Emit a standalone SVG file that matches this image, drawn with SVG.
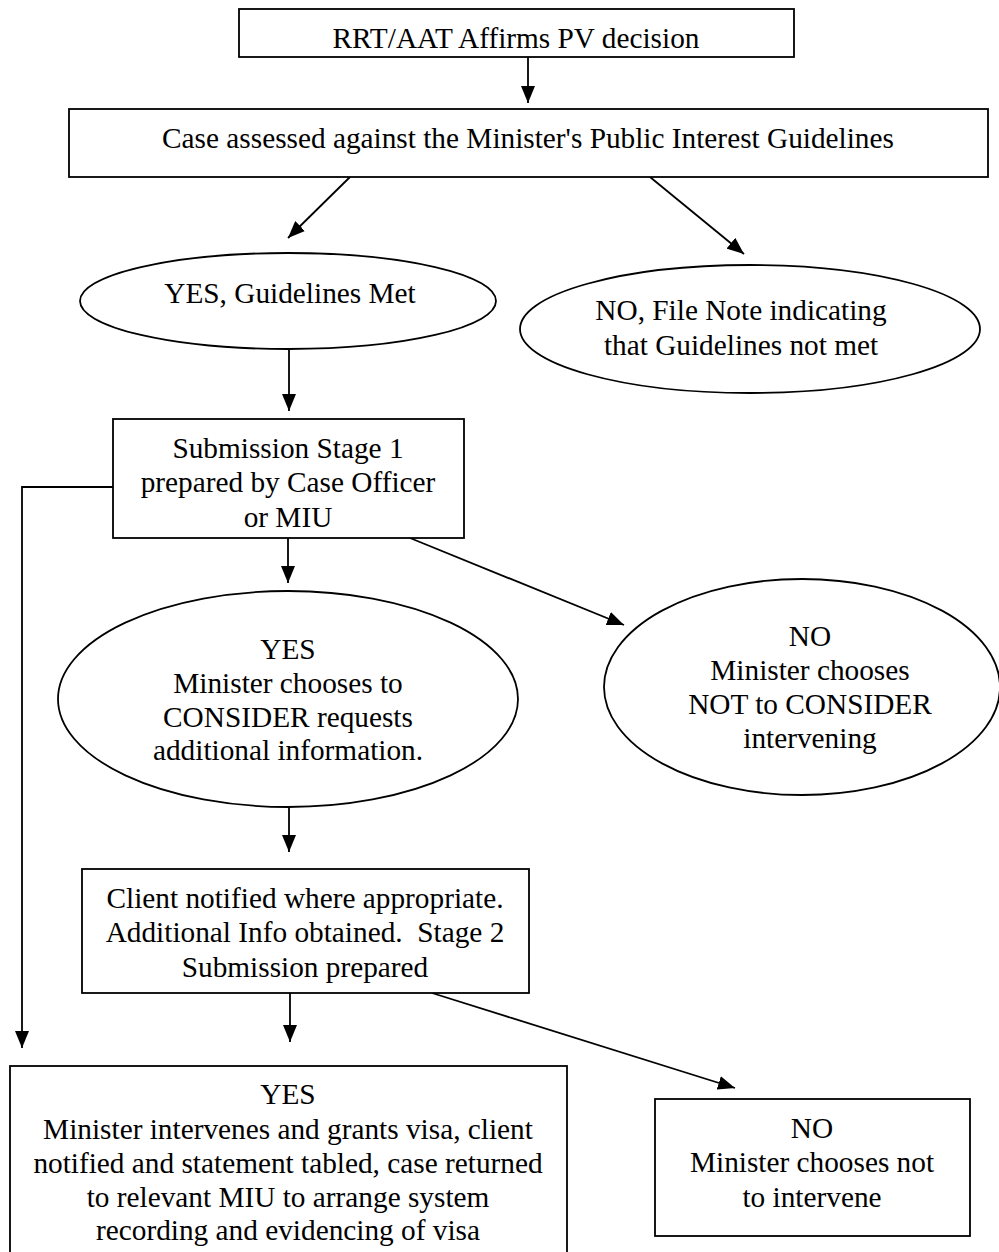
<svg xmlns="http://www.w3.org/2000/svg" width="999" height="1252" viewBox="0 0 999 1252">
<style>
.n{fill:#fff;stroke:#000;stroke-width:1.8}
.t{font-family:"Liberation Serif","Times New Roman",serif;font-size:29.3px;fill:#000;text-anchor:middle}
.c{fill:none;stroke:#000;stroke-width:1.8}
</style>
<defs>
<marker id="ah" viewBox="0 0 17 14" refX="17" refY="7" markerWidth="17" markerHeight="14" markerUnits="userSpaceOnUse" orient="auto">
<path d="M0,0 L17,7 L0,14 Z" fill="#000"/>
</marker>
</defs>
<rect width="999" height="1252" fill="#fff"/>
<g id="connectors">
<line class="c" x1="528" y1="57" x2="528" y2="103" marker-end="url(#ah)"/>
<line class="c" x1="350" y1="177" x2="288" y2="238" marker-end="url(#ah)"/>
<line class="c" x1="650" y1="177" x2="744" y2="254" marker-end="url(#ah)"/>
<line class="c" x1="289" y1="349" x2="289" y2="411" marker-end="url(#ah)"/>
<polyline class="c" points="113,487 22,487 22,1048" marker-end="url(#ah)"/>
<line class="c" x1="288" y1="538" x2="288" y2="583" marker-end="url(#ah)"/>
<line class="c" x1="410" y1="538" x2="624" y2="625" marker-end="url(#ah)"/>
<line class="c" x1="289" y1="807" x2="289" y2="852" marker-end="url(#ah)"/>
<line class="c" x1="290" y1="993" x2="290" y2="1042" marker-end="url(#ah)"/>
<line class="c" x1="432" y1="993" x2="735" y2="1088" marker-end="url(#ah)"/>
</g>
<g id="n1">
<rect class="n" x="239" y="9" width="555" height="48"/>
<text class="t" x="516" y="48">RRT/AAT Affirms PV decision</text>
</g>
<g id="n2">
<rect class="n" x="69" y="109" width="919" height="68"/>
<text class="t" x="528" y="148">Case assessed against the Minister's Public Interest Guidelines</text>
</g>
<g id="n3">
<ellipse class="n" cx="288" cy="301" rx="208" ry="48"/>
<text class="t" x="290" y="303">YES, Guidelines Met</text>
</g>
<g id="n4">
<ellipse class="n" cx="750" cy="329" rx="230" ry="64"/>
<text class="t" x="741" y="320">NO, File Note indicating</text>
<text class="t" x="741" y="355">that Guidelines not met</text>
</g>
<g id="n5">
<rect class="n" x="113" y="419" width="351" height="119"/>
<text class="t" x="288" y="458">Submission Stage 1</text>
<text class="t" x="288" y="492">prepared by Case Officer</text>
<text class="t" x="288" y="527">or MIU</text>
</g>
<g id="n6">
<ellipse class="n" cx="288" cy="699" rx="230" ry="108"/>
<text class="t" x="288" y="659">YES</text>
<text class="t" x="288" y="693">Minister chooses to</text>
<text class="t" x="288" y="727">CONSIDER requests</text>
<text class="t" x="288" y="760">additional information.</text>
</g>
<g id="n7">
<ellipse class="n" cx="802" cy="687" rx="198" ry="108"/>
<text class="t" x="810" y="646">NO</text>
<text class="t" x="810" y="680">Minister chooses</text>
<text class="t" x="810" y="714">NOT to CONSIDER</text>
<text class="t" x="810" y="748">intervening</text>
</g>
<g id="n8">
<rect class="n" x="82" y="869" width="447" height="124"/>
<text class="t" x="305" y="908">Client notified where appropriate.</text>
<text class="t" x="305" y="942" xml:space="preserve">Additional Info obtained.  Stage 2</text>
<text class="t" x="305" y="977">Submission prepared</text>
</g>
<g id="n9">
<rect class="n" x="10" y="1066" width="557" height="200"/>
<text class="t" x="288" y="1104">YES</text>
<text class="t" x="288" y="1139">Minister intervenes and grants visa, client</text>
<text class="t" x="288" y="1173">notified and statement tabled, case returned</text>
<text class="t" x="288" y="1207">to relevant MIU to arrange system</text>
<text class="t" x="288" y="1240">recording and evidencing of visa</text>
</g>
<g id="n10">
<rect class="n" x="655" y="1099" width="315" height="137"/>
<text class="t" x="812" y="1138">NO</text>
<text class="t" x="812" y="1172">Minister chooses not</text>
<text class="t" x="812" y="1207">to intervene</text>
</g>
</svg>
